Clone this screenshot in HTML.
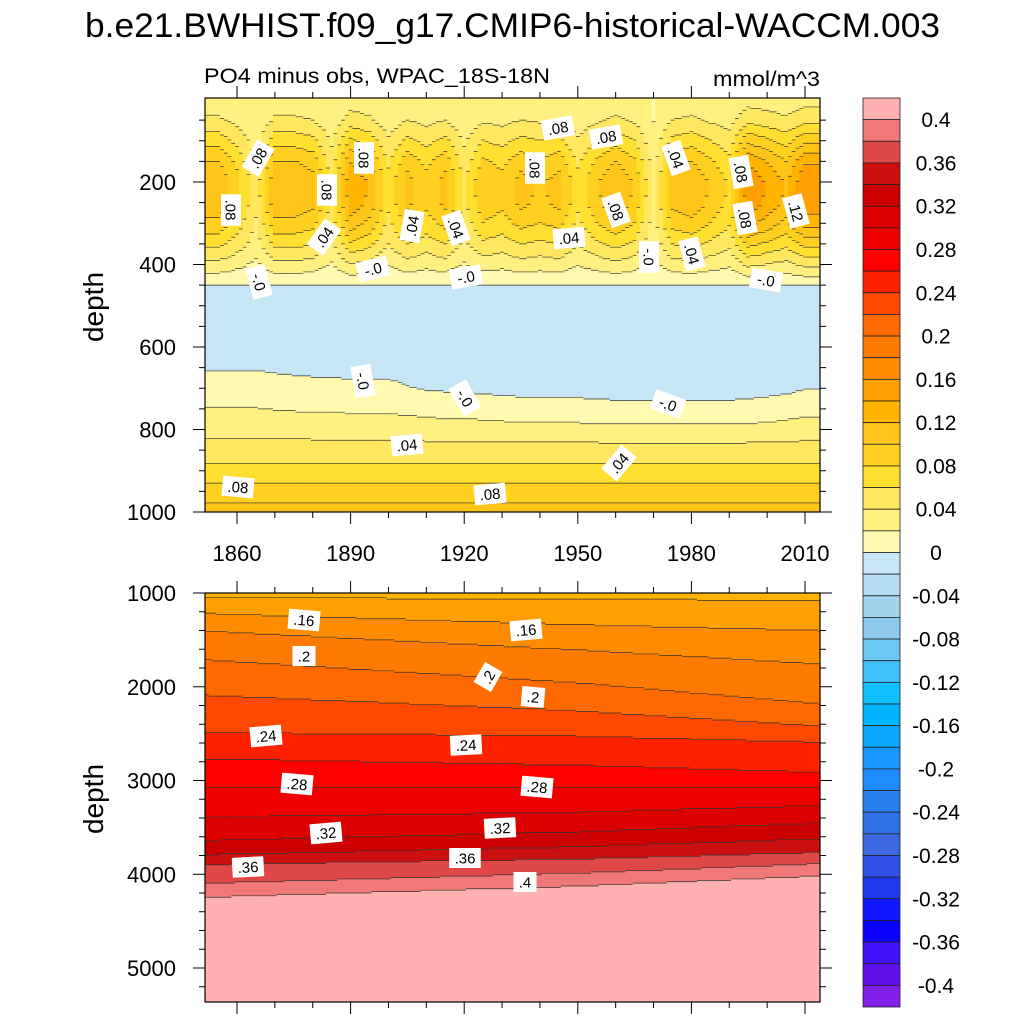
<!DOCTYPE html>
<html><head><meta charset="utf-8">
<style>
html,body{margin:0;padding:0;background:#fff;}
svg{display:block;font-family:"Liberation Sans",sans-serif;}
</style></head>
<body>
<svg id="chart" width="1024" height="1024" viewBox="0 0 1024 1024" xmlns="http://www.w3.org/2000/svg">
<defs>
<clipPath id="clipTop"><rect x="205" y="98" width="615" height="414"/></clipPath>
<clipPath id="clipBot"><rect x="205" y="593" width="615" height="409"/></clipPath>
</defs>
<text x="85" y="37" font-size="34" textLength="855" lengthAdjust="spacingAndGlyphs">b.e21.BWHIST.f09_g17.CMIP6-historical-WACCM.003</text>
<text x="204" y="83" font-size="21" textLength="346" lengthAdjust="spacingAndGlyphs">PO4 minus obs, WPAC_18S-18N</text>
<text x="713" y="86" font-size="21" textLength="107" lengthAdjust="spacingAndGlyphs">mmol/m^3</text>
<text transform="translate(103,307) rotate(-90)" font-size="28" text-anchor="middle">depth</text>
<text transform="translate(103,799) rotate(-90)" font-size="28" text-anchor="middle">depth</text>
<g id="topCells" clip-path="url(#clipTop)"></g>
<g id="botCells" clip-path="url(#clipBot)"></g>
<g id="labels"></g>
<g id="axes"></g>
<g id="cbar"></g>
</svg>
<script>
// ---------- data ----------
const colors = ["#ffb0b0","#f07878","#e04848","#cc1010","#cc0000","#dd0000","#ee0000","#ff0000","#ff2200","#ff4800","#ff6a00","#ff7a00","#ff8c00","#ffa000","#ffb400","#ffc418","#ffd020","#ffdf30","#ffe860","#fff080","#fffab0",
"#c6e6f6","#b4dcf2","#a2d4ee","#8ecaee","#6cc8f2","#40c0f8","#10c0ff","#00b4ff","#0aa8ff","#1898ff","#1e8cff","#2880f0","#3070e8","#3c68e0","#3050e8","#2038f0","#1018ff","#0a00ff","#4010f8","#6010e8","#8020e8"];
const cbarLabels = ["0.4","0.36","0.32","0.28","0.24","0.2","0.16","0.12","0.08","0.04","0","-0.04","-0.08","-0.12","-0.16","-0.2","-0.24","-0.28","-0.32","-0.36","-0.4"];
const xTickLabels = [1860,1890,1920,1950,1980,2010];
const topYTicks = [200,400,600,800,1000];
const botYTicks = [1000,2000,3000,4000,5000];
// top panel: mean profile + time anomalies (5-yr bins starting 1850)
const topDepths  = [0,50,100,150,200,250,300,350,400,450,490,550,620,655,700,745,818,880,927,975,1000];
const topProfile = [0.025,0.035,0.055,0.075,0.088,0.085,0.07,0.05,0.025,0.0,-0.01,-0.012,-0.008,0.0,0.008,0.02,0.04,0.06,0.08,0.1,0.11];
const upperWDepths = [0,50,100,150,200,250,300,350,400,450];
const upperW = [0.1,0.3,0.6,0.9,1,1,0.8,0.5,0.25,0];
const deepWDepths = [600,700,800,850];
const deepW = [0,1,0.6,0];
const binYears = [1850,1855,1860,1865,1870,1875,1880,1885,1890,1895,1900,1905,1910,1915,1920,1925,1930,1935,1940,1945,1950,1955,1960,1965,1970,1975,1980,1985,1990,1995,2000,2005,2010];
const upperAnom = [0.03,0.03,0.0,-0.04,0.03,0.03,0.02,-0.03,0.05,0.03,-0.02,0.02,0.0,0.02,-0.03,0.01,0.0,0.02,0.01,0.02,-0.02,0.01,0.03,0.01,-0.05,0.02,0.03,0.01,-0.01,0.07,0.05,0.03,0.07];
const deepAnom = [0,0,0,0,-0.002,-0.003,-0.004,-0.004,-0.005,-0.005,-0.005,-0.007,-0.009,-0.01,-0.01,-0.012,-0.013,-0.014,-0.015,-0.015,-0.015,-0.016,-0.017,-0.017,-0.017,-0.017,-0.017,-0.017,-0.017,-0.016,-0.014,-0.012,-0.008];
// bottom panel: contour depths per level at key years
const botLevels = [0.13,0.14,0.16,0.18,0.20,0.22,0.24,0.26,0.28,0.30,0.32,0.34,0.36,0.38,0.40,0.42];
const botKeyYears = [1850,1950,2014];
const botDepth1850 = [1000,1040,1210,1395,1700,2080,2480,2760,3065,3385,3635,3785,3890,4090,4240,5400];
const botDepth1950 = [1000,1060,1330,1600,1950,2250,2520,2830,3070,3330,3540,3700,3830,3980,4120,5400];
const botDepth2014 = [1000,1070,1395,1750,2175,2410,2585,2905,3065,3260,3445,3615,3760,3880,4010,5400];
const topLabels = [[258,158,".08",-60],[231,210,".08",90],[364,158,".08",90],[327,190,".08",90],[324,237,".04",-55],[412,226,".04",-80],[456,228,".04",70],[558,128,".08",-10],[606,137,".08",-10],[535,168,".08",90],[616,210,".08",70],[569,238,".04",-5],[676,158,".04",70],[741,172,".08",80],[745,218,".08",80],[796,211,".12",75],[649,257,"-.0",90],[692,254,".04",75],[766,280,"-.0",10],[259,282,"-.0",75],[373,269,"-.0",-15],[466,277,"-.0",-10],[363,381,"-.0",80],[465,398,"-.0",60],[668,404,"-.0",20],[407,445,".04",-5],[619,463,".04",-50],[238,487,".08",5],[490,494,".08",-5]];
const botLabels = [[304,620,".16",5],[526,630,".16",-5],[304,656,".2",0],[488,677,".2",-60],[533,697,".2",5],[266,736,".24",-5],[466,745,".24",-3],[297,784,".28",5],[537,787,".28",5],[326,833,".32",-5],[500,828,".32",-3],[248,867,".36",-3],[465,858,".36",0],[525,882,".4",0]];

// ---------- scales ----------
const xs = y => 237 + (y - 1860) * (568/150);
const yTop = d => 99.5 + d * 0.4125;
const yBot = d => 593 + (d - 1000) * 0.09375;
const NS = "http://www.w3.org/2000/svg";
function mk(tag, attrs, parent){const e=document.createElementNS(NS,tag);for(const k in attrs)e.setAttribute(k,attrs[k]);parent.appendChild(e);return e;}
function interp(xa, ya, x){
  if(x<=xa[0])return ya[0];
  for(let i=1;i<xa.length;i++){if(x<=xa[i]){const t=(x-xa[i-1])/(xa[i]-xa[i-1]);return ya[i-1]+t*(ya[i]-ya[i-1]);}}
  return ya[ya.length-1];
}
function lev(v){ if(v>=0.4)return 0; return Math.max(1,Math.min(41,Math.floor((0.42-v)/0.02+1e-9))); }

function drawPanel(group, years, depthList, valFn, yFn){
  let lines="";
  for(const yr of years){
    const x0=xs(yr-0.5), x1=xs(yr+0.5);
    let runStart=depthList[0], runLev=lev(valFn(yr,depthList[0]));
    for(let i=1;i<=depthList.length;i++){
      const L = i<depthList.length ? lev(valFn(yr,depthList[i])) : -1;
      if(L!==runLev){
        const dEnd = i<depthList.length ? depthList[i] : depthList[depthList.length-1]+20;
        const r=mk("rect",{x:x0.toFixed(2),y:yFn(runStart).toFixed(2),width:(x1-x0+0.6).toFixed(2),height:(yFn(dEnd)-yFn(runStart)+0.6).toFixed(2),fill:colors[runLev]},group);
        
        
        if(L>=0) lines+=`M${x0.toFixed(2)} ${yFn(dEnd).toFixed(2)}H${x1.toFixed(2)}`;
        runStart=dEnd; runLev=L;
      }
    }
  }
  const p=mk("path",{d:lines,stroke:"#333",'stroke-width':"0.7",fill:"none"},group);
  
  
}
const years=[]; for(let y=1850;y<=2014;y++)years.push(y);
// top
const topDs=[]; for(let d=-6;d<=1000;d+=4)topDs.push(d);
drawPanel(document.getElementById("topCells"), years, topDs, (yr,d)=>{
  return interp(topDepths,topProfile,d)+interp(binYears,upperAnom,yr)*interp(upperWDepths,upperW,d)+interp(binYears,deepAnom,yr)*interp(deepWDepths,deepW,d);
}, yTop);
// bottom
const botDs=[]; for(let d=990;d<=5380;d+=15)botDs.push(d);
drawPanel(document.getElementById("botCells"), years, botDs, (yr,d)=>{
  const a=botLevels.map((l,i)=>interp(botKeyYears,[botDepth1850[i],botDepth1950[i],botDepth2014[i]],yr));
  return interp(a,botLevels,d);
}, yBot);

// labels
const lg=document.getElementById("labels");
function addLabel(l,nm){
  const g=mk("g",{transform:`translate(${l[0]},${l[1]}) rotate(${l[3]})`},lg);
  
  
  const w=l[2].length*8.5+6;
  mk("rect",{x:-w/2,y:-10,width:w,height:20,fill:"#fff"},g);
  const t=mk("text",{x:0,y:5.5,'font-size':"15",'text-anchor':"middle"},g); t.textContent=l[2];
}
topLabels.forEach(l=>addLabel(l,'top-contour-label'));
botLabels.forEach(l=>addLabel(l,'bottom-contour-label'));

// axes
const ax=document.getElementById("axes");
function line(x1,y1,x2,y2,w){return mk("line",{x1,y1,x2,y2,stroke:"#000",'stroke-width':w||1},ax);}
[[98,512],[593,1002]].forEach(([t,b],pi)=>{
  const fr=mk("rect",{x:205,y:t,width:615,height:b-t,fill:"none",stroke:"#000",'stroke-width':1.2},ax);
  
  
  for(let y=1860;y<=2010;y+=10){
    const maj=(y-1860)%30===0, L=maj?12:6, x=xs(y);
    line(x,t,x,t-L); line(x,b,x,b+L);
  }
});
for(let d=50;d<=1000;d+=50){const maj=d%200===0,L=maj?12:6,y=yTop(d);line(205,y,205-L,y);line(820,y,820+L,y);}
for(let d=1000;d<=5300;d+=200){const maj=d%1000===0,L=maj?12:6,y=yBot(d);line(205,y,205-L,y);line(820,y,820+L,y);}
xTickLabels.forEach(y=>{const t=mk("text",{x:xs(y),y:561,'font-size':"22",'text-anchor':"middle"},ax);t.textContent=y;});
topYTicks.forEach(d=>{const t=mk("text",{x:176,y:yTop(d)+8,'font-size':"22",'text-anchor':"end"},ax);t.textContent=d;});
botYTicks.forEach(d=>{const t=mk("text",{x:176,y:yBot(d)+8,'font-size':"22",'text-anchor':"end"},ax);t.textContent=d;});

// colorbar
const cb=document.getElementById("cbar");
const bh=909/42;
colors.forEach((c,i)=>{
  const r=mk("rect",{x:863,y:(98+i*bh).toFixed(2),width:37,height:bh.toFixed(2),fill:c,stroke:"#222",'stroke-width':0.8},cb);
  
  
});
cbarLabels.forEach((s,i)=>{
  const t=mk("text",{x:936,y:(98+(1+2*i)*bh+7.5).toFixed(2),'font-size':"21",'text-anchor':"middle"},cb);
  t.textContent=s;
  
  
});
</script>
</body></html>
